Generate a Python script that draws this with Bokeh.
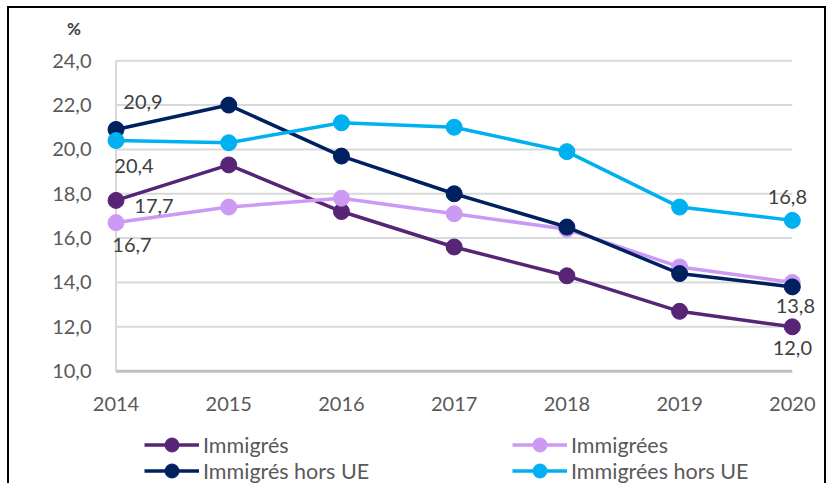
from bokeh.plotting import figure
from bokeh.layouts import column
from bokeh.models import (FixedTicker, Legend, LegendItem, ColumnDataSource, Range1d, Div)
from bokeh.core.properties import value
from bokeh.embed import file_html
from bokeh.resources import INLINE

# ---------------- data ----------------
years = [2014, 2015, 2016, 2017, 2018, 2019, 2020]
x_tick_labels = ["2014", "2015", "2016", "2017", "2018", "2019", "2020"]
immigres = [17.7, 19.3, 17.2, 15.6, 14.3, 12.7, 12.0]
immigrees = [16.7, 17.4, 17.8, 17.1, 16.4, 14.7, 14.0]
immigres_hors_ue = [20.9, 22.0, 19.7, 18.0, 16.5, 14.4, 13.8]
immigrees_hors_ue = [20.4, 20.3, 21.2, 21.0, 19.9, 17.4, 16.8]
series_names = ["Immigrés", "Immigrées", "Immigrés hors UE", "Immigrées hors UE"]
y_ticks = [10, 12, 14, 16, 18, 20, 22, 24]
y_tick_labels = ["10,0", "12,0", "14,0", "16,0", "18,0", "20,0", "22,0", "24,0"]
unit_label = "%"
# which points carry a data label: (series index, year index)
labelled_points = [(2, 0), (3, 0), (0, 0), (1, 0), (3, 6), (2, 6), (0, 6)]

# ---------------- styles ----------------
series = [immigres, immigrees, immigres_hors_ue, immigrees_hors_ue]
colors = ["#582576", "#CC9AF5", "#002060", "#00B0F0"]
label_offsets = [(27, -27), (18, 25), (38, 6), (16, 22), (-5, -23), (3, 19), (0, 21)]
FONT = "Lato"

# unit label strip
unit = Div(text=unit_label, width=815, height=41, margin=0,
           styles={"font-family": FONT, "font-size": "17px", "font-weight": "bold",
                   "color": "#404040", "text-indent": "58px", "line-height": "41px"})

p = figure(width=815, height=379, output_backend="svg", toolbar_location=None,
           x_range=Range1d(2014 - 0.12, 2020 + 0.25),
           y_range=Range1d(10 - 0.15, 24 + 0.1),
           min_border_left=93, min_border_right=4, min_border_top=9,
           min_border_bottom=54)
p.outline_line_color = None
p.background_fill_color = "white"
p.border_fill_color = "white"
p.xgrid.visible = False
p.ygrid.visible = False

# gridlines & axis lines drawn over the category span
p.segment(x0=years[0], x1=years[-1], y0=y_ticks[1:], y1=y_ticks[1:],
          line_color="#D9D9D9", line_width=2)
p.segment(x0=years[0], x1=years[0], y0=y_ticks[0], y1=y_ticks[-1],
          line_color="#D9D9D9", line_width=2)
p.segment(x0=years[0], x1=years[-1], y0=y_ticks[0], y1=y_ticks[0],
          line_color="#BFBFBF", line_width=3)

# axes
p.xaxis.ticker = FixedTicker(ticks=years)
p.xaxis.major_label_overrides = {y: t for y, t in zip(years, x_tick_labels)}
p.yaxis.ticker = FixedTicker(ticks=y_ticks)
p.yaxis.major_label_overrides = {y: t for y, t in zip(y_ticks, y_tick_labels)}
for ax in (p.xaxis, p.yaxis):
    ax.axis_line_color = None
    ax.major_tick_line_color = None
    ax.minor_tick_line_color = None
    ax.major_label_text_font = FONT
    ax.major_label_text_font_size = "20px"
    ax.major_label_text_color = "#595959"
p.xaxis.major_label_standoff = 16
p.yaxis.major_label_standoff = 5

for vals, col in zip(series, colors):
    p.line(years, vals, line_color=col, line_width=3.5)
    p.scatter(years, vals, size=16, fill_color=col, line_color=col)

# data labels
lx, ly, lt, ldx, ldy = [], [], [], [], []
for (si, yi), (dx, dy) in zip(labelled_points, label_offsets):
    v = series[si][yi]
    lx.append(years[yi]); ly.append(v)
    lt.append(f"{v:.1f}".replace(".", ","))
    ldx.append(dx); ldy.append(dy)
src = ColumnDataSource(dict(x=lx, y=ly, t=lt, dx=ldx, dy=ldy))
p.text(x="x", y="y", text="t", x_offset="dx", y_offset="dy", source=src,
       text_font=value(FONT), text_font_size="20px", text_color="#404040",
       text_align="center", text_baseline="middle")

# ---------------- legend strip ----------------
q = figure(width=815, height=55, output_backend="svg", toolbar_location=None,
           x_range=Range1d(0, 1), y_range=Range1d(0, 1),
           x_axis_location=None, y_axis_location=None,
           min_border_left=0, min_border_right=0, min_border_top=0,
           min_border_bottom=0)
q.outline_line_color = None
q.xgrid.visible = False
q.ygrid.visible = False
q.background_fill_color = "white"
q.border_fill_color = "white"

leg_renderers = []
for vals, col in zip(series, colors):
    # same series, outside this strip's visible range: only their legend shows
    lr = q.line(years, vals, line_color=col, line_width=3.5)
    sr = q.scatter(years, vals, size=16, fill_color=col, line_color=col)
    leg_renderers.append([lr, sr])


def make_legend(idx, loc):
    leg = Legend(items=[LegendItem(label=series_names[i], renderers=leg_renderers[i])
                        for i in idx],
                 orientation="horizontal", location=loc,
                 glyph_width=55, glyph_height=35, label_standoff=4,
                 label_width=309, spacing=0, padding=0, margin=0,
                 border_line_color=None, background_fill_alpha=0,
                 label_text_font=FONT, label_text_font_size="21.5px",
                 label_text_color="#595959")
    q.add_layout(leg)


make_legend([0, 1], (42, 21))
make_legend([2, 3], (42, -5))

layout = column(unit, p, q, spacing=0)
layout.styles = {"border-left": "2px solid #000000", "border-top": "2px solid #000000",
                 "border-right": "2px solid #000000", "margin-left": "7px",
                 "margin-top": "6px", "width": "fit-content"}

open("out.html", "w").write(file_html(layout, INLINE))
